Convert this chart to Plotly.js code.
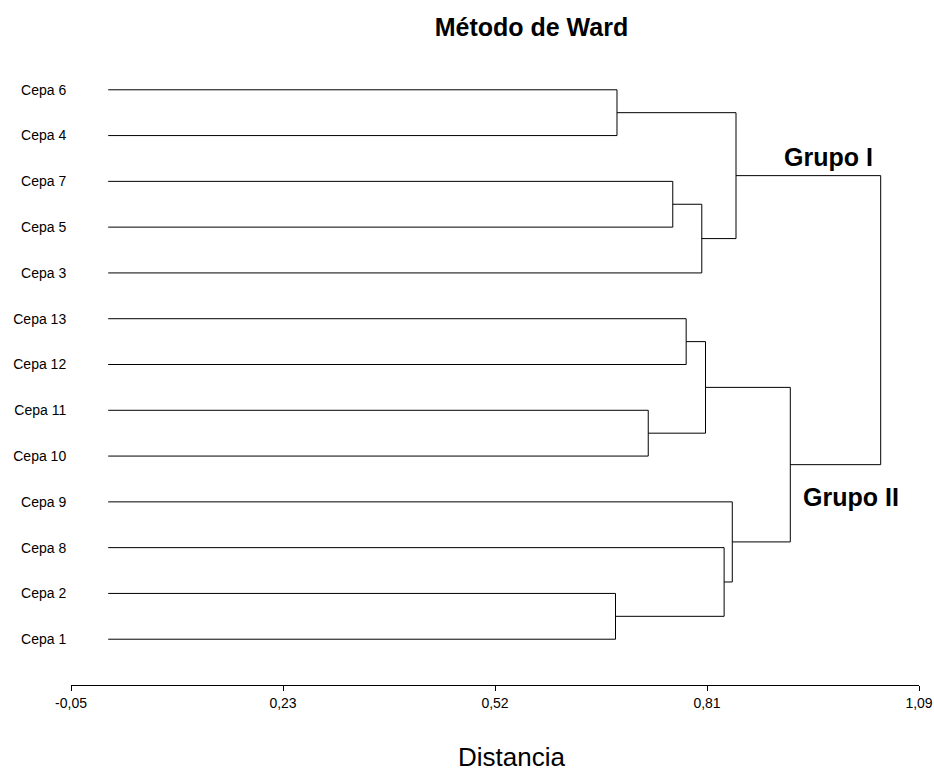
<!DOCTYPE html>
<html>
<head>
<meta charset="utf-8">
<script src="https://cdn.plot.ly/plotly-3.0.1.min.js"></script>
<style>html,body{margin:0;padding:0;background:#fff;}#chart{width:934px;height:773px;}</style>
</head>
<body>
<div id="chart"></div>
<script>
// Leaf order, top to bottom
const leafLabels = ["Cepa 6","Cepa 4","Cepa 7","Cepa 5","Cepa 3","Cepa 13","Cepa 12","Cepa 11","Cepa 10","Cepa 9","Cepa 8","Cepa 2","Cepa 1"];
// Merges (Ward): child A, child B, distance
const mergeIds     = ["m0","m1","m2","m3","m4","m5","m6","m7","m8","m9","m10","m11"];
const mergeChildA  = ["Cepa 6","Cepa 7","m1","m0","Cepa 13","Cepa 11","m4","Cepa 2","Cepa 8","Cepa 9","m6","m3"];
const mergeChildB  = ["Cepa 4","Cepa 5","Cepa 3","m2","Cepa 12","Cepa 10","m5","Cepa 1","m7","m8","m9","m10"];
const mergeHeights = [0.684, 0.759, 0.798, 0.844, 0.777, 0.726, 0.803, 0.682, 0.828, 0.839, 0.917, 1.0385];
// X axis ticks
const xTickVals = [-0.05, 0.235, 0.52, 0.805, 1.09];
const xTickText = ["-0,05", "0,23", "0,52", "0,81", "1,09"];
const groupLabels = ["Grupo I", "Grupo II"];

const nodeY = {}, nodeH = {};
leafLabels.forEach((l, i) => { nodeY[l] = leafLabels.length - i; nodeH[l] = 0; });
const xs = [], ys = [];
mergeIds.forEach((id, i) => {
  const a = mergeChildA[i], b = mergeChildB[i], h = mergeHeights[i];
  xs.push(nodeH[a], h, h, nodeH[b], null);
  ys.push(nodeY[a], nodeY[a], nodeY[b], nodeY[b], null);
  nodeY[id] = (nodeY[a] + nodeY[b]) / 2;
  nodeH[id] = h;
});

const sans = "'Liberation Sans', Arial, sans-serif";

const data = [{
  x: xs, y: ys, type: 'scatter', mode: 'lines',
  line: {color: '#000', width: 1}, hoverinfo: 'skip', showlegend: false
}];

const layout = {
  width: 934, height: 773,
  margin: {l: 71, r: 15, t: 44, b: 88},
  paper_bgcolor: '#fff', plot_bgcolor: '#fff',
  title: {text: '<b>Método de Ward</b>', font: {family: sans, size: 25, color: '#000'},
          xref: 'container', yref: 'container', x: 0.569, xanchor: 'center', y: 0.965, yanchor: 'middle'},
  xaxis: {
    range: [-0.05, 1.09], showline: true, linecolor: '#000', linewidth: 1,
    ticks: 'outside', ticklen: 5, tickcolor: '#000', tickwidth: 1,
    tickvals: xTickVals, ticktext: xTickText,
    tickfont: {family: sans, size: 14, color: '#000'},
    showgrid: false, zeroline: false, fixedrange: true
  },
  yaxis: {
    range: [0, 14], showline: false, showgrid: false, zeroline: false,
    tickvals: leafLabels.map((l, i) => leafLabels.length - i), ticktext: leafLabels,
    ticks: 'outside', ticklen: 1, tickcolor: 'rgba(0,0,0,0)',
    tickfont: {family: sans, size: 14, color: '#000'}, fixedrange: true
  },
  annotations: [
    {text: '<b>' + groupLabels[0] + '</b>', xref: 'x', yref: 'y', x: 0.969, y: 11.53, showarrow: false,
     xanchor: 'center', yanchor: 'middle', font: {family: sans, size: 25, color: '#000'}},
    {text: '<b>' + groupLabels[1] + '</b>', xref: 'x', yref: 'y', x: 0.999, y: 4.11, showarrow: false,
     xanchor: 'center', yanchor: 'middle', font: {family: sans, size: 25, color: '#000'}},
    {text: 'Distancia', xref: 'paper', yref: 'paper', x: 0.52, y: -0.1131, showarrow: false,
     xanchor: 'center', yanchor: 'middle', font: {family: sans, size: 26, color: '#000'}}
  ]
};

Plotly.newPlot('chart', data, layout, {displayModeBar: false, staticPlot: true});
</script>
</body>
</html>
